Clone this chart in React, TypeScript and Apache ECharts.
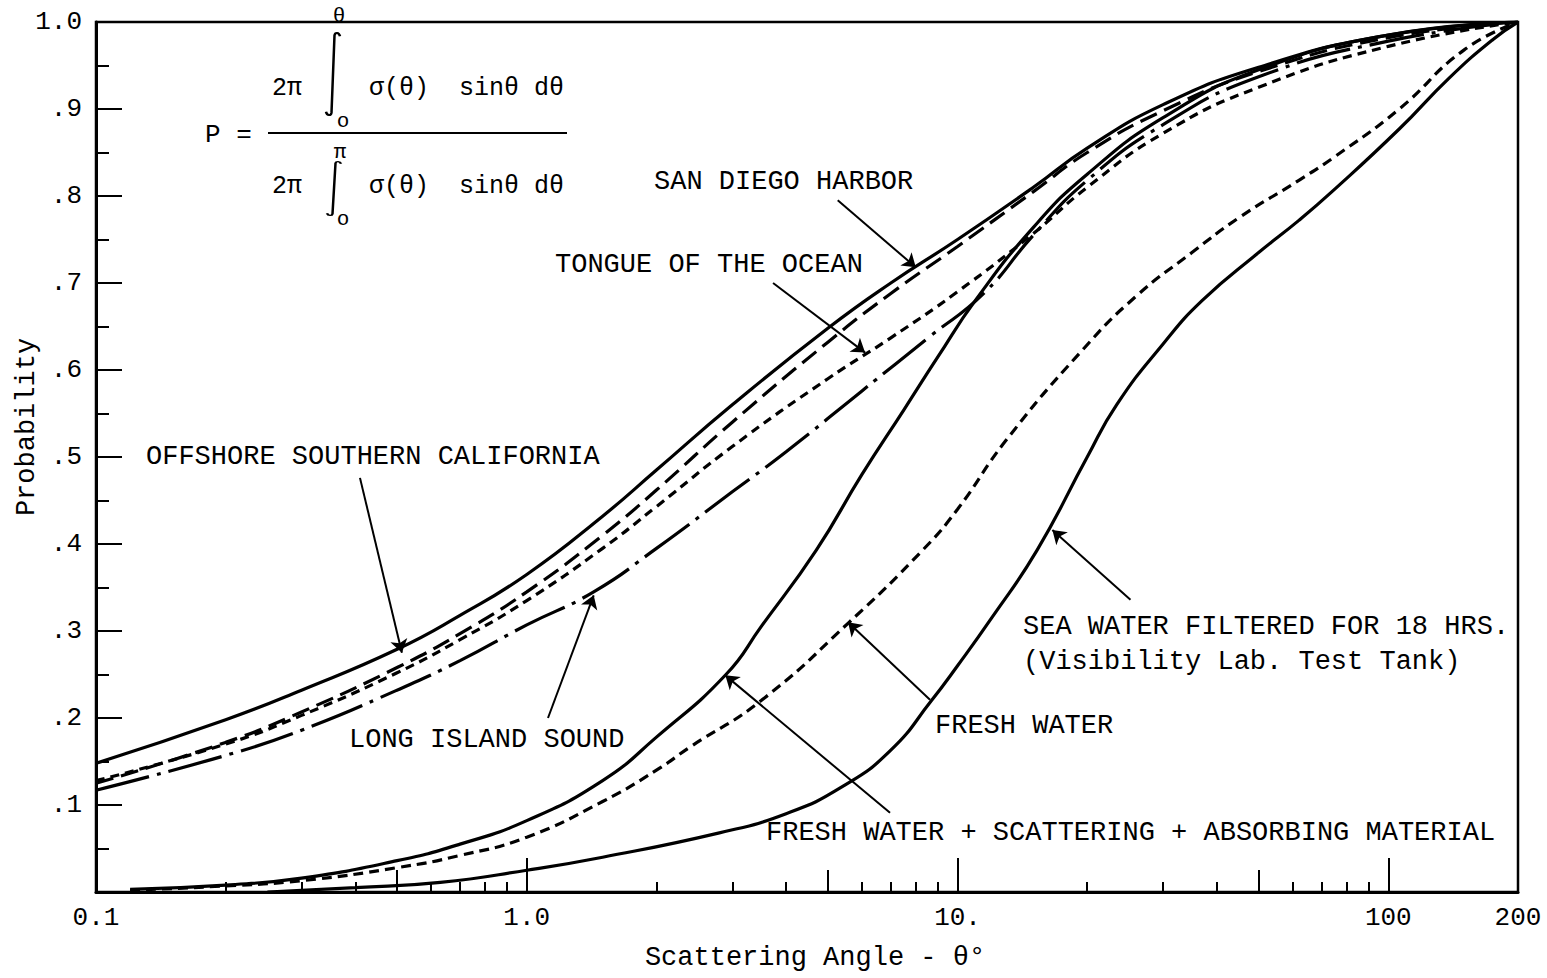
import React, { useEffect, useRef } from 'react';
import * as echarts from 'echarts';

// ---------- data ----------
const xTickValues = [0.1, 1, 10, 100, 200];
const xTickLabels = ['0.1', '1.0', '10.', '100', '200'];
const xMajorTicks = [1, 10, 100];
const xMidTicks = [0.5, 5, 50];
const xMinorTicks = [0.2, 0.3, 0.4, 0.6, 0.7, 0.8, 0.9, 2, 3, 4, 6, 7, 8, 9, 20, 30, 40, 60, 70, 80, 90];
const yTickLabels = ['', '.1', '.2', '.3', '.4', '.5', '.6', '.7', '.8', '.9', '1.0'];

const offshoreSoCal: [number, number][] = [[0.1, 0.148], [0.2, 0.198], [0.3, 0.232], [0.5, 0.279], [0.7, 0.318], [1, 0.365], [1.5, 0.432], [2, 0.485], [3, 0.56], [5, 0.648], [7, 0.7], [10, 0.75], [15, 0.81], [20, 0.855], [30, 0.905], [50, 0.948], [100, 0.985], [200, 1]];
const sanDiegoHarbor: [number, number][] = [[0.1, 0.125], [0.2, 0.172], [0.3, 0.207], [0.5, 0.258], [0.7, 0.297], [1, 0.345], [1.5, 0.41], [2, 0.462], [3, 0.54], [5, 0.632], [7, 0.688], [10, 0.742], [15, 0.805], [20, 0.85], [30, 0.898], [50, 0.943], [100, 0.982], [200, 1]];
const tongueOfOcean: [number, number][] = [[0.1, 0.128], [0.2, 0.17], [0.3, 0.203], [0.5, 0.252], [0.7, 0.29], [1, 0.335], [1.5, 0.395], [2, 0.443], [3, 0.512], [5, 0.59], [7, 0.637], [10, 0.69], [15, 0.757], [20, 0.81], [30, 0.872], [50, 0.925], [100, 0.972], [200, 1]];
const longIslandSound: [number, number][] = [[0.1, 0.117], [0.2, 0.157], [0.3, 0.186], [0.5, 0.232], [0.7, 0.266], [1, 0.307], [1.43, 0.345], [2, 0.395], [3, 0.46], [4, 0.506], [6, 0.576], [8.6, 0.638], [11.5, 0.688], [15, 0.755], [20, 0.818], [30, 0.882], [50, 0.937], [100, 0.978], [200, 1]];
const freshScatAbs: [number, number][] = [[0.12, 0.003], [0.2, 0.008], [0.3, 0.016], [0.5, 0.036], [0.7, 0.055], [1, 0.082], [1.5, 0.128], [2, 0.178], [2.9, 0.25], [3.5, 0.305], [4.7, 0.393], [6, 0.48], [7.5, 0.554], [9, 0.615], [11, 0.68], [15, 0.764], [20, 0.825], [30, 0.89], [50, 0.945], [100, 0.985], [200, 1]];
const freshWater: [number, number][] = [[0.12, 0.002], [0.2, 0.007], [0.3, 0.013], [0.5, 0.028], [0.7, 0.042], [1, 0.063], [1.5, 0.104], [2, 0.14], [2.4, 0.167], [3.5, 0.22], [5.6, 0.31], [8.3, 0.393], [10, 0.44], [13, 0.52], [19.5, 0.623], [26, 0.685], [35, 0.735], [45, 0.775], [62, 0.818], [75, 0.845], [106, 0.9], [150, 0.968], [200, 1]];
const seaWaterFiltered: [number, number][] = [[0.25, 0.0], [0.4, 0.005], [0.63, 0.011], [1, 0.025], [1.5, 0.04], [2.8, 0.068], [4, 0.09], [5.4, 0.121], [7, 0.163], [8.7, 0.22], [10, 0.26], [12, 0.315], [15.3, 0.393], [20, 0.5], [23.4, 0.56], [30, 0.63], [37, 0.68], [50, 0.735], [62, 0.772], [74, 0.805], [106, 0.877], [138, 0.935], [175, 0.98], [200, 1]];

// annotation arrows (data coordinates: tail, head)
const arrowOffshore: [number, number][] = [[0.41, 0.476], [0.513, 0.275]];
const arrowSanDiego: [number, number][] = [[5.27, 0.795], [8.0, 0.718]];
const arrowTongue: [number, number][] = [[3.73, 0.7], [6.1, 0.62]];
const arrowLongIsland: [number, number][] = [[1.12, 0.2], [1.43, 0.341]];
const arrowFreshScatAbs: [number, number][] = [[6.97, 0.091], [2.89, 0.249]];
const arrowFresh: [number, number][] = [[8.63, 0.221], [5.57, 0.31]];
const arrowSea: [number, number][] = [[25.2, 0.336], [16.6, 0.416]];

const FONT = '"Liberation Mono", "DejaVu Sans Mono", monospace';

echarts.graphic.registerShape(
  'integralSign',
  echarts.graphic.extendPath('M14 5 C13 0 9 0 8.5 4 L5.5 96 C5 100 1 100 0 95', {})
);

function xLabel(v: number): string {
  for (let i = 0; i < xTickValues.length; i++) {
    if (Math.abs(Math.log10(v) - Math.log10(xTickValues[i])) < 1e-6) return xTickLabels[i];
  }
  return '';
}

function arrowLine(a: [number, number][]) {
  return {
    silent: true,
    symbol: ['none', 'arrow'],
    symbolSize: 13,
    label: { show: false },
    emphasis: { disabled: true },
    lineStyle: { color: '#000', width: 2, type: 'solid' },
    data: [[{ coord: a[0] }, { coord: a[1] }]],
  };
}

function curve(name: string, data: [number, number][], type: any, arrow: [number, number][]) {
  return {
    name,
    type: 'line',
    data,
    xAxisIndex: 0,
    yAxisIndex: 0,
    showSymbol: false,
    smooth: 0.5,
    silent: true,
    lineStyle: { color: '#000', width: 3.2, type, cap: 'butt' },
    markLine: arrowLine(arrow),
  };
}

function tickAxis(values: number[], length: number, showMain: boolean) {
  return {
    type: 'log',
    logBase: 10,
    min: 0.1,
    max: 200,
    position: 'bottom',
    offset: 0,
    gridIndex: 0,
    axisLine: { show: showMain, lineStyle: { color: '#000', width: 3 } },
    axisTick: {
      show: true,
      inside: true,
      length,
      customValues: values,
      lineStyle: { color: '#000', width: 2 },
    },
    axisLabel: showMain
      ? {
          show: true,
          customValues: xTickValues,
          formatter: (v: number) => xLabel(v),
          fontFamily: FONT,
          fontSize: 26,
          color: '#000',
          margin: 13,
        }
      : { show: false },
    splitLine: { show: false },
    minorTick: { show: false },
  };
}

const txt = (text: string, x: number, y: number, size = 27, align = 'left') => ({
  type: 'text',
  x,
  y,
  silent: true,
  style: { text, fill: '#000', font: `${size}px ${FONT}`, align, verticalAlign: 'middle' },
});

export default function App() {
  const ref = useRef<HTMLDivElement>(null);
  useEffect(() => {
    if (!ref.current) return;
    const chart = echarts.init(ref.current, undefined, { renderer: 'svg' });
    const option: any = {
      animation: false,
      backgroundColor: '#fff',
      grid: {
        left: 96,
        right: 29,
        top: 22,
        bottom: 86,
        show: true,
        borderColor: '#000',
        borderWidth: 2.5,
        outerBoundsMode: 'none',
        containLabel: false,
      },
      xAxis: [tickAxis(xMajorTicks, 34, true), tickAxis(xMidTicks, 22, false), tickAxis(xMinorTicks, 10, false)],
      yAxis: {
        type: 'value',
        min: 0,
        max: 1,
        interval: 0.1,
        axisLine: { show: true, lineStyle: { color: '#000', width: 3 } },
        axisTick: { show: true, inside: true, length: 26, lineStyle: { color: '#000', width: 2 } },
        minorTick: { show: true, splitNumber: 2, length: 13, lineStyle: { color: '#000', width: 2 } },
        axisLabel: {
          formatter: (v: number) => yTickLabels[Math.round(v * 10)] ?? '',
          fontFamily: FONT,
          fontSize: 26,
          color: '#000',
          margin: 14,
        },
        splitLine: { show: false },
      },
      series: [
        curve('OFFSHORE SOUTHERN CALIFORNIA', offshoreSoCal, 'solid', arrowOffshore),
        curve('SAN DIEGO HARBOR', sanDiegoHarbor, [18, 8], arrowSanDiego),
        curve('TONGUE OF THE OCEAN', tongueOfOcean, [9, 6], arrowTongue),
        curve('LONG ISLAND SOUND', longIslandSound, [55, 8, 4, 8], arrowLongIsland),
        curve('FRESH WATER + SCATTERING + ABSORBING MATERIAL', freshScatAbs, 'solid', arrowFreshScatAbs),
        curve('FRESH WATER', freshWater, [10, 6], arrowFresh),
        curve('SEA WATER FILTERED FOR 18 HRS.', seaWaterFiltered, 'solid', arrowSea),
      ],
      graphic: [
        // axis names
        {
          type: 'text',
          x: 27,
          y: 427,
          rotation: Math.PI / 2,
          silent: true,
          style: { text: 'Probability', fill: '#000', font: `27px ${FONT}`, align: 'center', verticalAlign: 'middle' },
        },
        txt('Scattering Angle - θ°', 815, 958, 27, 'center'),
        // curve labels
        txt('SAN DIEGO HARBOR', 654, 182),
        txt('TONGUE OF THE OCEAN', 555, 265),
        txt('OFFSHORE SOUTHERN CALIFORNIA', 146, 457),
        txt('LONG ISLAND SOUND', 349, 740),
        txt('FRESH WATER', 935, 726),
        txt('SEA WATER FILTERED FOR 18 HRS.', 1023, 627),
        txt('(Visibility Lab. Test Tank)', 1023, 662),
        txt('FRESH WATER + SCATTERING + ABSORBING MATERIAL', 766, 833),
        // formula
        txt('P =', 205, 135, 26),
        { type: 'line', silent: true, shape: { x1: 268, y1: 133, x2: 567, y2: 133 }, style: { stroke: '#000', lineWidth: 2 } },
        txt('2π', 272, 88, 25),
        txt('σ(θ)  sinθ dθ', 369, 88, 25),
        { type: 'integralSign', x: 326, y: 32, scaleX: 1, scaleY: 0.84, silent: true, style: { fill: 'none', stroke: '#000', lineWidth: 2.5, strokeNoScale: true } },
        txt('θ', 339, 16, 21, 'center'),
        txt('o', 343, 121, 21, 'center'),
        txt('2π', 272, 186, 25),
        txt('σ(θ)  sinθ dθ', 369, 186, 25),
        { type: 'integralSign', x: 327, y: 161, scaleX: 1, scaleY: 0.55, silent: true, style: { fill: 'none', stroke: '#000', lineWidth: 2.5, strokeNoScale: true } },
        txt('π', 340, 152, 21, 'center'),
        txt('o', 343, 219, 21, 'center'),
      ],
    };
    chart.setOption(option);
    return () => chart.dispose();
  }, []);
  return <div ref={ref} style={{ position: 'absolute', left: 0, top: 0, width: 1547, height: 978 }} />;
}
